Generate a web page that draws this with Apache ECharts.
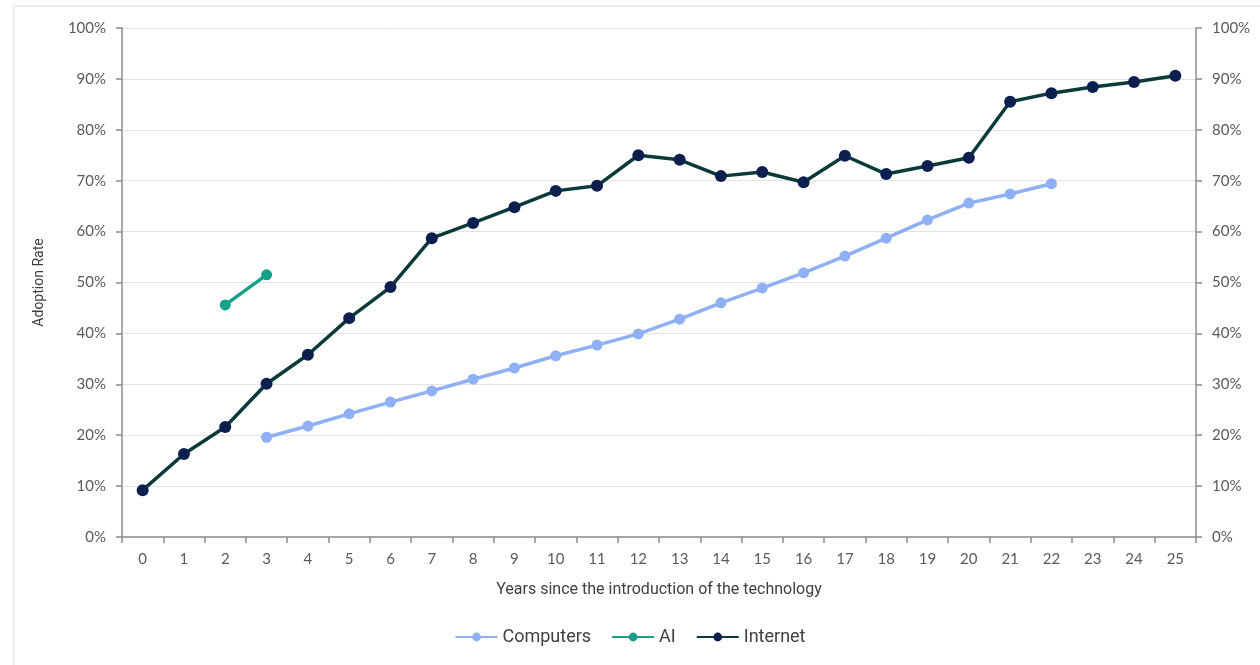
<!DOCTYPE html>
<html>
<head>
<meta charset="utf-8">
<script src="https://cdn.jsdelivr.net/npm/echarts@6/dist/echarts.min.js"></script>
<style>
  html, body { margin: 0; padding: 0; background: #ffffff; }
  #chart { width: 1260px; height: 665px; }
</style>
</head>
<body>
<div id="chart"></div>
<script>
// Years since introduction (category axis)
const years = ['0','1','2','3','4','5','6','7','8','9','10','11','12','13','14','15','16','17','18','19','20','21','22','23','24','25'];

// Adoption rates in percent
const computers = [null, null, null, 19.6, 21.8, 24.2, 26.5, 28.7, 31.0, 33.2, 35.6, 37.7, 39.9, 42.8, 46.0, 48.9, 51.9, 55.2, 58.7, 62.3, 65.6, 67.4, 69.4, null, null, null];
const ai = [null, null, 45.6, 51.5, null, null, null, null, null, null, null, null, null, null, null, null, null, null, null, null, null, null, null, null, null, null];
const internet = [9.2, 16.3, 21.6, 30.1, 35.8, 43.0, 49.1, 58.7, 61.7, 64.8, 68.0, 69.0, 75.0, 74.1, 70.9, 71.7, 69.7, 74.9, 71.3, 72.9, 74.5, 85.5, 87.2, 88.4, 89.4, 90.6];

const seriesNames = ['Computers', 'AI', 'Internet'];

const chart = echarts.init(document.getElementById('chart'), null, { renderer: 'canvas' });

const axisFont = 'Lato, "Noto Sans", sans-serif';
const labelColor = '#5a5a5a';

const valueAxis = (position, align, margin) => ({
  type: 'value',
  position: position,
  min: 0,
  max: 100,
  interval: 10,
  axisLine: { show: true, lineStyle: { color: '#8c8c8c', width: 1.5 } },
  axisTick: { show: true, length: 6, lineStyle: { color: '#8c8c8c', width: 1.5 } },
  axisLabel: {
    formatter: '{value}%',
    color: labelColor,
    fontFamily: axisFont,
    fontSize: 15,
    margin: margin,
    align: align
  },
  splitLine: { show: position === 'left', lineStyle: { color: '#e3e3e3', width: 1 } }
});

const option = {
  backgroundColor: '#ffffff',
  animation: false,
  graphic: [{
    type: 'rect',
    shape: { x: 14, y: 6, width: 1280, height: 700 },
    style: { fill: 'none', stroke: '#e6e6e6', lineWidth: 1.5 },
    silent: true,
    z: -10
  }],
  grid: { left: 122, right: 64, top: 28, bottom: 128, containLabel: false },
  legend: {
    data: seriesNames,
    bottom: 14,
    left: 'center',
    itemWidth: 42,
    itemHeight: 11,
    itemGap: 20,
    textStyle: { color: '#404040', fontFamily: 'Roboto, "Noto Sans", sans-serif', fontSize: 18 }
  },
  xAxis: {
    type: 'category',
    data: years,
    boundaryGap: true,
    name: 'Years since the introduction of the technology',
    nameLocation: 'middle',
    nameGap: 45,
    nameTextStyle: { color: '#404040', fontFamily: 'Roboto, "Noto Sans", sans-serif', fontSize: 16 },
    axisLine: { show: true, lineStyle: { color: '#8c8c8c', width: 1.5 } },
    axisTick: { show: true, alignWithLabel: false, length: 6, lineStyle: { color: '#8c8c8c', width: 1.5 } },
    axisLabel: { color: labelColor, fontFamily: axisFont, fontSize: 15, margin: 15, interval: 0 },
    splitLine: { show: false }
  },
  yAxis: [
    Object.assign(valueAxis('left', 'right', 16), {
      name: 'Adoption Rate',
      nameLocation: 'middle',
      nameGap: 76,
      nameRotate: 90,
      nameTextStyle: { color: '#404040', fontFamily: 'Roboto, "Noto Sans", sans-serif', fontSize: 14 }
    }),
    valueAxis('right', 'left', 16)
  ],
  series: [
    {
      name: 'Computers',
      type: 'line',
      data: computers,
      symbol: 'circle',
      symbolSize: 11,
      lineStyle: { color: '#8fb0f5', width: 3.5 },
      itemStyle: { color: '#8fb0f5' },
      z: 2
    },
    {
      name: 'AI',
      type: 'line',
      data: ai,
      symbol: 'circle',
      symbolSize: 11,
      lineStyle: { color: '#17a08a', width: 3.5 },
      itemStyle: { color: '#17a08a' },
      z: 3
    },
    {
      name: 'Internet',
      type: 'line',
      data: internet,
      symbol: 'circle',
      symbolSize: 12,
      lineStyle: { color: '#0b3a3b', width: 3.5 },
      itemStyle: { color: '#0c1f4f' },
      z: 4
    }
  ]
};

chart.setOption(option);
</script>
</body>
</html>
